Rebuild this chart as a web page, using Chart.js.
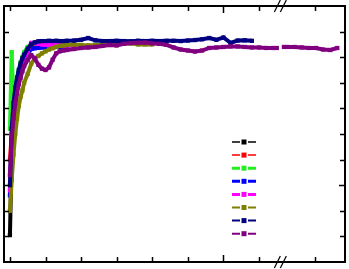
<!DOCTYPE html>
<html>
<head>
<meta charset="utf-8">
<script src="https://cdn.jsdelivr.net/npm/chart.js@4/dist/chart.umd.min.js"></script>
<style>
  body { margin: 0; background: #fff; }
  canvas { display: block; }
</style>
</head>
<body>
<canvas id="chart" width="349" height="269"></canvas>
<script>
// shared x grid (axis units, one tick = 10)
const xs = [0, 0.5, 1, 1.5, 2, 2.5, 3, 3.5, 4, 5, 6, 7, 8, 9, 10, 11, 12, 13, 14, 15, 16,
  18, 20, 22, 24, 26, 28, 30, 32, 34, 36, 38, 40, 42, 44, 46, 48, 50, 52, 54, 56, 58,
  60, 62, 64, 66, 68, 70, 72, 74, 75, 76, 77, 78, 80, 82, 84, 86, 88, 90, 92];

// series values, one entry per xs
const blackVals = [10.5, 42, 55, 63, 68, 72, 75, 77, 79, 81.5, 83.5, 84.5, 85, 85.3, 85.5, 85.5, 85.6, 85.6, 85.6];
const redVals = [40, 50, 58, 64, 68.5, 72, 75, 77.5, 79.5, 82, 83.8, 84.6, 85, 85.3, 85.5, 85.5, 85.6, 85.6, 85.6];
const greenVals = [52, 82, 62, 67, 71, 75, 78, 80, 82, 84, 85, 85.5, 85.7, 85.7, 85.7, 85.7, 85.7, 85.7, 85.7];
const blueVals = [26, 48, 59, 66, 70.5, 74, 76.5, 78.5, 80, 82, 83.2, 83.5, 83.7, 83.8, 83.8, 83.9, 83.9, 84, 84, 84, 84];
const magentaVals = [28, 46, 57, 64, 69, 72.5, 75, 76.5, 78, 82.5, 85.6, 85.5, 85.2, 85, 84.9, 84.8, 84.8, 84.7, 84.7, 84.6, 84.6, 84.5];
const oliveVals = [20, 32, 42, 50, 56, 61, 64.5, 67, 70, 73.5, 77.5, 79.5, 80.5, 81.5, 82.3, 83, 83.5, 84, 84.4, 84.6, 84.8,
  85, 84.8, 84.6, 84.8, 85, 85, 85.2, 85.4, 85.4, 85, 85, 85];
const navyVals = [30, 52, 62, 68, 72, 75, 77.5, 79.5, 81, 83.3, 85, 85.8, 86.2, 86.3, 86.3, 86.4, 86.3, 86.4, 86.3, 86.3, 86.4,
  86.5, 86.8, 87.5, 86.6, 86.3, 86.3, 86.4, 86.3, 86.2, 86.4, 86.3, 86.4, 86.3, 86.4, 86.4, 86.3, 86.5, 86.7, 87, 87.5, 86.8,
  87.7, 85.6, 86.5, 86.6, 86.4];
const purpleVals = [34, 48, 56, 62, 66, 69.5, 72, 74.5, 76.5, 79, 80.8, 79.5, 77, 75.5, 75, 76, 79, 81.5, 82.3, 82.6, 82.8,
  83.2, 83.6, 83.8, 84, 84.4, 84.8, 84.6, 85.2, 85.5, 85.6, 85.7, 85.4, 85.2, 84.8, 83.8, 83, 82.6, 82.2, 82.6, 83.6, 83.8,
  84, 84.2, 84.2, 84, 83.8, 83.8, 83.6, 83.6, 83.6, null, 84, 84, 84, 83.8, 83.6, 83.6, 83, 82.8, 83.6];

const seriesVals = [blackVals, redVals, greenVals, blueVals, magentaVals, oliveVals, navyVals, purpleVals];
const seriesColors = ['#000000', '#ff0000', '#22ee22', '#0000ff', '#ff00ff', '#808000', '#000080', '#800080'];
const legendWidths = [1.5, 1.5, 3, 3, 3, 2, 2, 2];

// axis ticks
const xTicks = [0, 10, 20, 30, 40, 50, 60, 70, 85.6];
const yTicks = [10, 20, 30, 40, 50, 60, 70, 80, 90];
const xBreak = 76;

const framePlugin = {
  id: 'frame',
  afterDraw(chart) {
    const ctx = chart.ctx;
    const a = chart.chartArea;
    const sx = chart.scales.x, sy = chart.scales.y;
    ctx.save();
    ctx.strokeStyle = '#000';
    ctx.lineWidth = 2;
    ctx.strokeRect(a.left, a.top, a.right - a.left, a.bottom - a.top);

    ctx.lineWidth = 1.5;
    ctx.beginPath();
    xTicks.forEach(v => {
      const px = Math.round(sx.getPixelForValue(v)) + 0.5;
      const len = v === 60 ? 7 : 5;
      ctx.moveTo(px, a.bottom); ctx.lineTo(px, a.bottom - len);
      ctx.moveTo(px, a.top); ctx.lineTo(px, a.top + len);
    });
    yTicks.forEach(v => {
      const py = Math.round(sy.getPixelForValue(v)) + 0.5;
      const len = v === 30 ? 6 : 5;
      ctx.moveTo(a.left, py); ctx.lineTo(a.left + len, py);
      ctx.moveTo(a.right, py); ctx.lineTo(a.right - len, py);
    });
    ctx.stroke();

    // axis break marks
    const bx = sx.getPixelForValue(xBreak);
    ctx.lineWidth = 1.2;
    ctx.beginPath();
    [a.top, a.bottom].forEach(y => {
      [-3, 3].forEach(off => {
        ctx.moveTo(bx + off - 3, y + 6);
        ctx.lineTo(bx + off + 3, y - 6);
      });
    });
    ctx.stroke();

    // legend (line + square marker, no text)
    const lx0 = 232, lx1 = 256, lm = 244;
    chart.data.datasets.forEach((ds, i) => {
      const y = 142 + i * 13.1;
      ctx.strokeStyle = ds.borderColor;
      ctx.fillStyle = ds.borderColor;
      ctx.lineWidth = legendWidths[i];
      ctx.beginPath();
      ctx.moveTo(lx0, y); ctx.lineTo(lm - 4, y);
      ctx.moveTo(lm + 4, y); ctx.lineTo(lx1, y);
      ctx.stroke();
      ctx.fillRect(lm - 2.5, y - 2.5, 5, 5);
    });
    ctx.restore();
  }
};

const datasets = seriesVals.map((vals, i) => ({
  label: 'S' + (i + 1),
  data: vals.map((v, j) => ({ x: xs[j], y: v })),
  borderColor: seriesColors[i],
  backgroundColor: seriesColors[i],
  borderWidth: 4,
  pointStyle: 'rect',
  pointRadius: 3,
  pointBorderWidth: 0,
  spanGaps: false,
  order: seriesVals.length - 1 - i
}));

new Chart(document.getElementById('chart'), {
  type: 'line',
  data: { datasets },
  options: {
    responsive: false,
    animation: false,
    devicePixelRatio: 1,
    layout: { padding: { left: 2, top: 6, right: 2, bottom: 7 } },
    plugins: { legend: { display: false }, tooltip: { enabled: false } },
    scales: {
      x: { type: 'linear', display: false, min: -1.667, max: 94.17 },
      y: { type: 'linear', display: false, min: 0, max: 100 }
    }
  },
  plugins: [framePlugin]
});
</script>
</body>
</html>
